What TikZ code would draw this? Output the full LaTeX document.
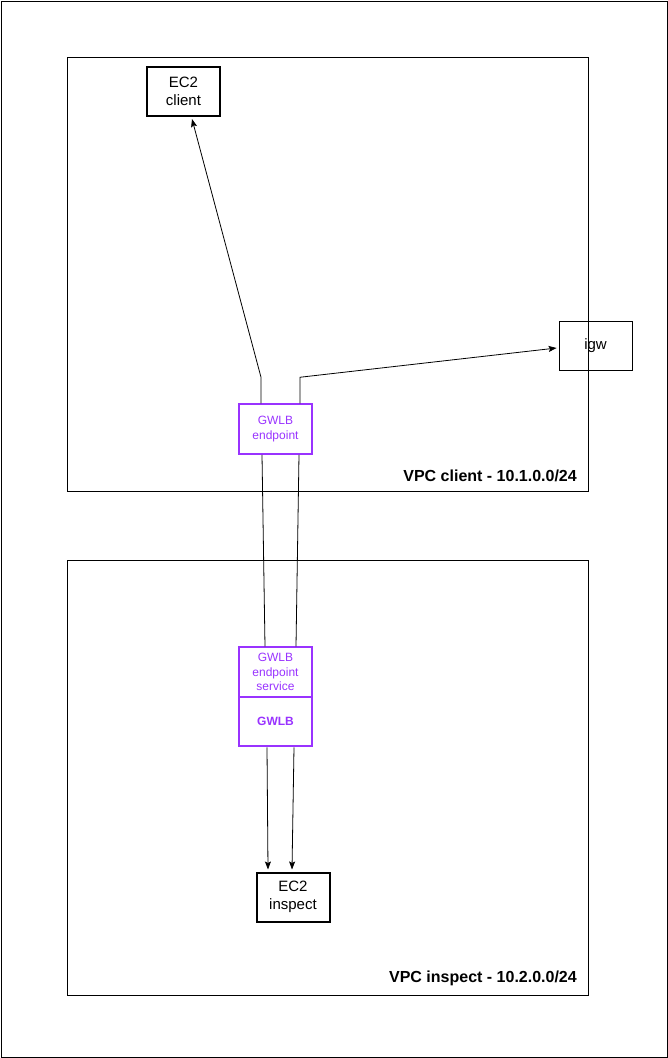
\documentclass[tikz,border=0pt]{standalone}
\usepackage{fontspec}
\setmainfont{Liberation Sans}
\usepackage{tikz}
\usetikzlibrary{arrows.meta}
\definecolor{gwlbpurple}{HTML}{9933FF}

\begin{document}
\begin{tikzpicture}[x=1pt,y=-1pt,
  host/.style={draw,line width=2pt,minimum width=73pt,minimum height=49pt,inner sep=0pt,align=center,font=\fontsize{15}{18.5}\selectfont},
  gw/.style={draw,line width=0.8pt,minimum width=73pt,minimum height=49pt,inner sep=0pt,align=center,font=\fontsize{15}{18.5}\selectfont},
  lb/.style={draw=gwlbpurple,text=gwlbpurple,line width=2pt,minimum width=73pt,minimum height=49.5pt,inner sep=0pt,align=center,font=\fontsize{12}{14.5}\selectfont},
  vpclabel/.style={anchor=base east,inner sep=0pt,font=\fontsize{16}{19}\selectfont\bfseries},
  arr/.style={-{Stealth[length=8pt,width=6pt,inset=1.5pt]},line width=0.8pt}]
\useasboundingbox (0,0) rectangle (668,1058);
\draw[line width=0.8pt] (1,1) rectangle (667,1057);
% VPCs
\draw[line width=0.8pt] (67,57) rectangle (588,491);
\draw[line width=0.8pt] (67,560) rectangle (588,995);
\node[vpclabel] (vpcclient) at (577,481) {VPC client - 10.1.0.0/24};
\node[vpclabel] (vpcinspect) at (577,982) {VPC inspect - 10.2.0.0/24};
% hosts
\node[host] (ec2client) at (183.5,91.5) {EC2\\client};
\node[gw] (igw) at (595.5,345.5) {igw};
\node[host] (ec2inspect) at (293,897) {EC2\\inspect};
% gateway load balancer
\node[lb] (gwlbe) at (275.5,429) {GWLB\\endpoint};
\node[lb] (gwlbes) at (275.5,672) {GWLB\\endpoint\\service};
\node[lb,font=\fontsize{12}{14.5}\selectfont\bfseries] (gwlb) at (275.5,721.5) {GWLB};
% traffic
\draw[arr] ([xshift=-14.5pt]gwlbe.north) -- ++(0,-26) -- ([xshift=8.5pt,yshift=-2pt]ec2client.south);
\draw[arr] ([xshift=24.5pt]gwlbe.north) -- ++(0,-26) -- ([xshift=-2pt,yshift=-2.5pt]igw.west);
\draw[line width=0.8pt] ([xshift=-13.5pt]gwlbe.south) -- ([xshift=-10.5pt]gwlbes.north);
\draw[line width=0.8pt] ([xshift=23.5pt]gwlbe.south) -- ([xshift=20.5pt]gwlbes.north);
\draw[arr] ([xshift=-8.5pt]gwlb.south) -- ([xshift=-25pt,yshift=2pt]ec2inspect.north);
\draw[arr] ([xshift=18.5pt]gwlb.south) -- ([xshift=-1pt,yshift=2pt]ec2inspect.north);
\end{tikzpicture}
\end{document}
